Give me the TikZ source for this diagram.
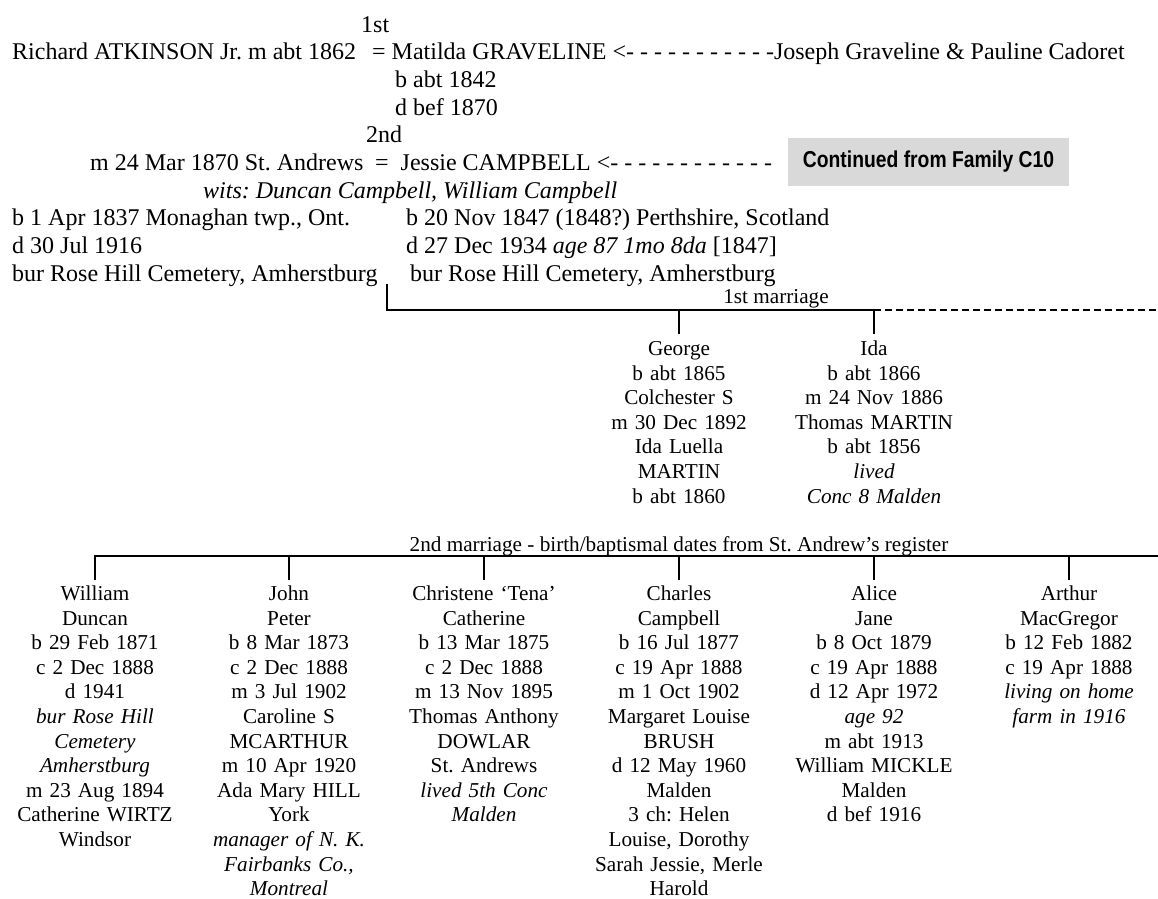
\documentclass[tikz,border=0pt]{standalone}
\usepackage{fontspec}
\setmainfont{Liberation Serif}
\newfontfamily\boxfont[FakeStretch=0.84]{Liberation Sans}
\definecolor{boxgray}{RGB}{217,217,217}
\begin{document}
\frenchspacing
\begin{tikzpicture}[x=1pt,y=-1pt,
  txt/.style={font=\fontsize{24}{27.7}\selectfont, inner sep=0pt, anchor=base west},
  kid/.style={font=\fontsize{21.2}{24.6}\selectfont, inner sep=0pt, anchor=north, align=center, text width=190pt},
  lbl/.style={font=\fontsize{21.2}{24.6}\selectfont, inner sep=0pt, anchor=base},
  rel/.style={line width=2pt},
  reldash/.style={line width=2pt, dash pattern=on 6.5pt off 4.5pt},
  contbox/.style={fill=boxgray, minimum width=281pt, minimum height=48pt, inner sep=0pt,
    font=\boxfont\bfseries\fontsize{23}{27}\selectfont}]
\useasboundingbox (0,0) rectangle (1158,898);

% parents
\node[txt] (first) at (361,32) {1st};
\node[txt] (rich) at (12,59.7) {Richard ATKINSON Jr. m abt 1862};
\node[txt] (mat) at (372,59.7) {= Matilda GRAVELINE <- - - - - - - - - - -Joseph Graveline \& Pauline Cadoret};
\node[txt] (mb) at (395,87.4) {b abt 1842};
\node[txt] (md) at (395,115.1) {d bef 1870};
\node[txt] (second) at (366,142.8) {2nd};
\node[txt] (mar2) at (90,170.5) {m 24 Mar 1870 St. Andrews};
\node[txt] (jes) at (375,170.5) {=\ \ Jessie CAMPBELL <- - - - - - - - - - - -};
\node[txt] (wits) at (203,198.2) {\itshape wits: Duncan Campbell, William Campbell};
\node[txt] (rb) at (12,225.9) {b 1 Apr 1837 Monaghan twp., Ont.};
\node[txt] (rd) at (12,253.6) {d 30 Jul 1916};
\node[txt] (rbur) at (12,281.3) {bur Rose Hill Cemetery, Amherstburg};
\node[txt] (jb) at (406,225.9) {b 20 Nov 1847 (1848?) Perthshire, Scotland};
\node[txt] (jd) at (406,253.6) {d 27 Dec 1934 \textit{age 87 1mo 8da} [1847]};
\node[txt] (jbur) at (410,281.3) {bur Rose Hill Cemetery, Amherstburg};

\node[contbox] (cont) at (928.5,162) {Continued from Family C10};

% first marriage
\node[lbl] (lab1) at (776,303) {1st marriage};
\coordinate (p1) at (387,284);
\coordinate (h1L) at (387,310);
\coordinate (h1G) at (679,310);
\coordinate (h1I) at (874,310);
\coordinate (h1R) at (1158,310);
\draw[rel] (p1) -- (h1L) -- (h1I);
\draw[reldash] (h1I) -- (h1R);

\node[kid] (george) at (679,338) {\strut George\\b abt 1865\\Colchester S\\m 30 Dec 1892\\Ida Luella\\MARTIN\\b abt 1860};
\node[kid] (ida) at (874,338) {\strut Ida\\b abt 1866\\m 24 Nov 1886\\Thomas MARTIN\\b abt 1856\\\textit{lived}\\\textit{Conc 8 Malden}};
\draw[rel] (h1G) -- ([yshift=4pt]george.north);
\draw[rel] (h1I) -- ([yshift=4pt]ida.north);

% second marriage
\node[lbl] (lab2) at (679,551) {2nd marriage - birth/baptismal dates from St. Andrew’s register};
\coordinate (h2a) at (95,556);
\coordinate (h2b) at (289,556);
\coordinate (h2c) at (484,556);
\coordinate (h2d) at (679,556);
\coordinate (h2e) at (874,556);
\coordinate (h2f) at (1069,556);
\coordinate (h2R) at (1158,556);

\node[kid] (william) at (95,583) {\strut William\\Duncan\\b 29 Feb 1871\\c 2 Dec 1888\\d 1941\\\textit{bur Rose Hill}\\\textit{Cemetery}\\\textit{Amherstburg}\\m 23 Aug 1894\\Catherine WIRTZ\\Windsor};
\node[kid] (john) at (289,583) {\strut John\\Peter\\b 8 Mar 1873\\c 2 Dec 1888\\m 3 Jul 1902\\Caroline S\\MCARTHUR\\m 10 Apr 1920\\Ada Mary HILL\\York\\\textit{manager of N. K.}\\\textit{Fairbanks Co.,}\\\textit{Montreal}};
\node[kid] (tena) at (484,583) {\strut Christene ‘Tena’\\Catherine\\b 13 Mar 1875\\c 2 Dec 1888\\m 13 Nov 1895\\Thomas Anthony\\DOWLAR\\St. Andrews\\\textit{lived 5th Conc}\\\textit{Malden}};
\node[kid] (charles) at (679,583) {\strut Charles\\Campbell\\b 16 Jul 1877\\c 19 Apr 1888\\m 1 Oct 1902\\Margaret Louise\\BRUSH\\d 12 May 1960\\Malden\\3 ch: Helen\\Louise, Dorothy\\Sarah Jessie, Merle\\Harold};
\node[kid] (alice) at (874,583) {\strut Alice\\Jane\\b 8 Oct 1879\\c 19 Apr 1888\\d 12 Apr 1972\\\textit{age 92}\\m abt 1913\\William MICKLE\\Malden\\d bef 1916};
\node[kid] (arthur) at (1069,583) {\strut Arthur\\MacGregor\\b 12 Feb 1882\\c 19 Apr 1888\\\textit{living on home}\\\textit{farm in 1916}};

\draw[rel] ([yshift=3pt]william.north) -- (h2a) -- (h2R);
\draw[rel] (h2b) -- ([yshift=3pt]john.north);
\draw[rel] (h2c) -- ([yshift=3pt]tena.north);
\draw[rel] (h2d) -- ([yshift=3pt]charles.north);
\draw[rel] (h2e) -- ([yshift=3pt]alice.north);
\draw[rel] (h2f) -- ([yshift=3pt]arthur.north);
\end{tikzpicture}
\end{document}
